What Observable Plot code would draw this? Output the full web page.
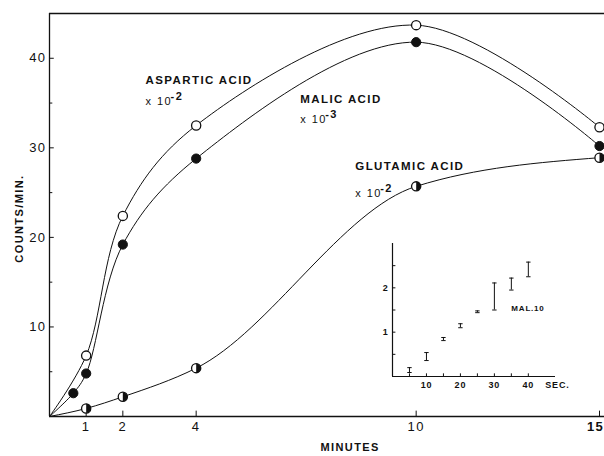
<!DOCTYPE html>
<html><head><meta charset="utf-8">
<script src="https://cdn.jsdelivr.net/npm/d3@7"></script>
<script src="https://cdn.jsdelivr.net/npm/@observablehq/plot@0.6"></script>
<style>
body{margin:0;background:#fff}
#wrap{position:relative;width:604px;height:456px}
#wrap svg{position:absolute;overflow:visible}
</style></head><body><div id="wrap"></div>
<script>
// ---- data ----
const aspMinutes = [0, 1, 2, 4, 10, 15];
const aspartic   = [0, 6.8, 22.4, 32.5, 43.7, 32.3];
const malMinutes = [0, 0.65, 1, 2, 4, 10, 15];
const malic      = [0, 2.6, 4.8, 19.2, 28.8, 41.8, 30.2];
const gluMinutes = [0, 1, 2, 4, 10, 15];
const glutamic   = [0, 0.9, 2.2, 5.4, 25.7, 28.9];
const xTicks = [1, 2, 4, 10, 15];
const yTicks = [10, 20, 30, 40];
const yMinor = [5, 15, 25, 35];
// inset: malate, seconds
const insetSec  = [5, 10, 15, 20, 25, 30, 35, 40];
const insetLow  = [0.09, 0.36, 0.81, 1.10, 1.44, 1.50, 1.95, 2.25];
const insetHigh = [0.20, 0.54, 0.88, 1.19, 1.48, 2.11, 2.22, 2.58];
const insetXTicks = [5, 10, 15, 20, 25, 30, 35, 40];
const insetXLabels = [10, 20, 30, 40];
const insetYTicks = [0.5, 1, 1.5, 2, 2.5];
const insetYLabels = [1, 2];

const zip = (xs, ys) => xs.map((x, i) => ({x, y: ys[i]}));
const asp = zip(aspMinutes, aspartic);
const mal = zip(malMinutes, malic);
const glu = zip(gluMinutes, glutamic);
const nz = d => d.x > 0;
const bars = insetSec.map((x, i) => ({x, lo: insetLow[i], hi: insetHigh[i]}));

const rightHalf = {draw(ctx, size) {
  const r = Math.sqrt(size / Math.PI);
  ctx.moveTo(0, -r); ctx.arc(0, 0, r, -Math.PI / 2, Math.PI / 2); ctx.closePath();
}};
const hbar = {draw(ctx, size) {
  const r = Math.sqrt(size / Math.PI);
  ctx.moveTo(-r, 0); ctx.lineTo(r, 0);
}};

const font = "'Liberation Sans', Arial, sans-serif";
const lab = {fontSize: 11.5, fontWeight: "bold", textAnchor: "start", fill: "#111"};
const ink = "#111";

const main = Plot.plot({
  width: 604, height: 456,
  marginLeft: 49, marginRight: 5, marginTop: 13, marginBottom: 40,
  x: {domain: [0, 15], axis: null},
  y: {domain: [0, 45], axis: null},
  style: {fontFamily: font, background: "transparent", color: ink, letterSpacing: "1.4px"},
  marks: [
    Plot.ruleX([0], {y1: 0, y2: 45, stroke: ink, strokeWidth: 1.3}),
    Plot.ruleY([0], {x1: 0, x2: 15.2, stroke: ink, strokeWidth: 1.5}),
    Plot.ruleY([45], {x1: 0, x2: 15.2, stroke: ink, strokeWidth: 1.5}),
    Plot.ruleX(xTicks, {x: d => d, y1: 0, y2: 0.6, stroke: ink}),
    Plot.ruleY(yTicks, {y: d => d, x1: 0, x2: 0.13, stroke: ink}),
    Plot.ruleY(yMinor, {y: d => d, x1: 0, x2: 0.09, stroke: ink}),
    Plot.text(xTicks.filter(d => d < 15), {x: d => d, y: 0, dy: 10, text: d => String(d), fontSize: 13, fill: ink}),
    Plot.text(xTicks.filter(d => d === 15), {x: d => d, y: 0, dy: 10, dx: -4, text: d => String(d), fontSize: 13, fontWeight: "bold", fill: ink}),
    Plot.text(yTicks, {x: 0, y: d => d, dx: -3, text: d => String(d), textAnchor: "end", fontSize: 13, fill: ink}),
    Plot.text(["COUNTS/MIN."], {x: -0.82, y: 22.1, rotate: -90, fontSize: 11, fontWeight: "bold", fill: ink}),
    Plot.text(["MINUTES"], {x: 8.2, y: -3.5, fontSize: 11, fontWeight: "bold", fill: ink}),
    Plot.line(asp, {x: "x", y: "y", curve: "catmull-rom", stroke: ink, strokeWidth: 1}),
    Plot.line(mal, {x: "x", y: "y", curve: "catmull-rom", stroke: ink, strokeWidth: 1}),
    Plot.line(glu, {x: "x", y: "y", curve: "monotone-x", stroke: ink, strokeWidth: 1}),
    Plot.dot(asp.filter(nz), {x: "x", y: "y", r: 4.6, fill: "white", stroke: ink, strokeWidth: 1.3}),
    Plot.dot(mal.filter(nz), {x: "x", y: "y", r: 4.6, fill: ink, stroke: ink, strokeWidth: 1}),
    Plot.dot(glu.filter(nz), {x: "x", y: "y", r: 4.6, fill: "white", stroke: ink, strokeWidth: 1.3}),
    Plot.dot(glu.filter(nz), {x: "x", y: "y", r: 4.6, symbol: rightHalf, fill: ink}),
    Plot.text(["ASPARTIC ACID"], {x: 2.62, y: 37.5, ...lab}),
    Plot.text(["x 10"], {x: 2.62, y: 35.2, fontSize: 11, textAnchor: "start", fill: ink}),
    Plot.text(["-2"], {x: 2.62, y: 35.2, dx: 25, dy: -5, fontSize: 11, fontWeight: "bold", textAnchor: "start", fill: ink}),
    Plot.text(["MALIC ACID"], {x: 6.84, y: 35.4, ...lab}),
    Plot.text(["x 10"], {x: 6.84, y: 33.2, fontSize: 11, textAnchor: "start", fill: ink}),
    Plot.text(["-3"], {x: 6.84, y: 33.2, dx: 25, dy: -5, fontSize: 11, fontWeight: "bold", textAnchor: "start", fill: ink}),
    Plot.text(["GLUTAMIC ACID"], {x: 8.34, y: 27.9, ...lab}),
    Plot.text(["x 10"], {x: 8.34, y: 24.9, fontSize: 11, textAnchor: "start", fill: ink}),
    Plot.text(["-2"], {x: 8.34, y: 24.9, dx: 25, dy: -5, fontSize: 11, fontWeight: "bold", textAnchor: "start", fill: ink})
  ]
});

const inset = Plot.plot({
  width: 200, height: 160,
  marginLeft: 22, marginRight: 15, marginTop: 8, marginBottom: 19,
  x: {domain: [0, 48], axis: null},
  y: {domain: [0, 3], axis: null},
  style: {fontFamily: font, background: "transparent", color: ink, letterSpacing: "0.8px"},
  marks: [
    Plot.ruleX([0], {y1: 0, y2: 3, stroke: ink, strokeWidth: 1.2}),
    Plot.ruleY([0], {x1: 0, x2: 48, stroke: ink, strokeWidth: 1.2}),
    Plot.ruleX(insetXTicks, {x: d => d, y1: 0, y2: 0.06, stroke: ink}),
    Plot.ruleY(insetYTicks, {y: d => d, x1: 0, x2: 1, stroke: ink}),
    Plot.text(insetXLabels, {x: d => d, y: 0, dy: 9, text: d => String(d), fontSize: 9, fontWeight: "bold", fill: ink}),
    Plot.text(["SEC."], {x: 45, y: 0, dy: 9, textAnchor: "start", fontSize: 9, fontWeight: "bold", fill: ink}),
    Plot.text(insetYLabels, {x: 0, y: d => d, dx: -4, text: d => String(d), textAnchor: "end", fontSize: 9, fontWeight: "bold", fill: ink}),
    Plot.ruleX(bars, {x: "x", y1: "lo", y2: "hi", stroke: ink, strokeWidth: 1}),
    Plot.dot(bars, {x: "x", y: "lo", symbol: hbar, r: 2.2, stroke: ink, strokeWidth: 1}),
    Plot.dot(bars, {x: "x", y: "hi", symbol: hbar, r: 2.2, stroke: ink, strokeWidth: 1}),
    Plot.text(["MAL.10"], {x: 35, y: 1.53, textAnchor: "start", fontSize: 8, fontWeight: "bold", fill: ink})
  ]
});

const wrap = document.getElementById("wrap");
main.style.left = "0px"; main.style.top = "0px";
inset.style.left = "370px"; inset.style.top = "235px";
wrap.appendChild(main);
wrap.appendChild(inset);
</script></body></html>
